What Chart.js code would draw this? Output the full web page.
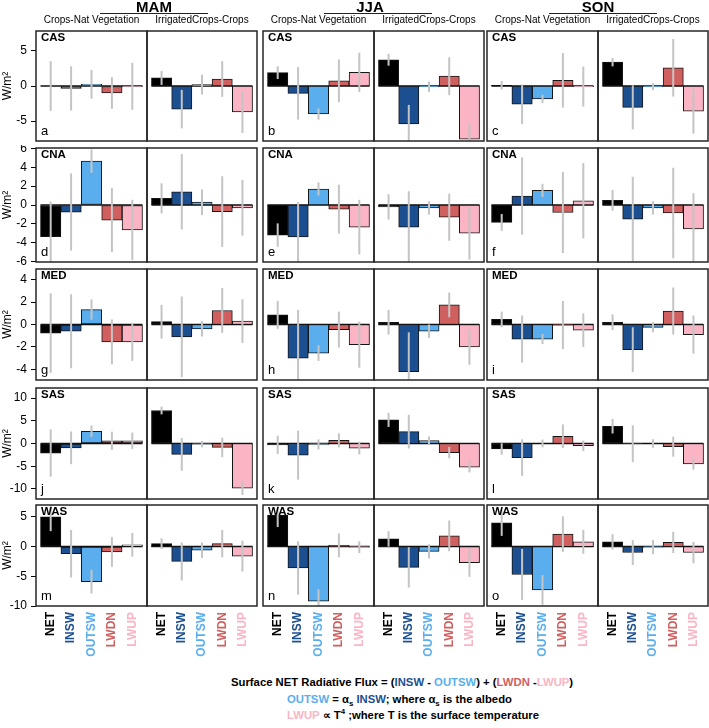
<!DOCTYPE html>
<html>
<head>
<meta charset="utf-8">
<script src="https://cdn.jsdelivr.net/npm/chart.js"></script>
<style>
  html, body { margin: 0; padding: 0; background: #fff; }
  #fig { position: relative; width: 709px; height: 728px; overflow: hidden;
         font-family: 'Liberation Sans', Arial, sans-serif; color: #000; }
  #fig canvas { position: absolute; }
  .t { position: absolute; white-space: nowrap; line-height: 1; }
  .t sub, .t sup { font-size: 70%; line-height: 0; }
</style>
</head>
<body>
<div id="fig"></div>
<script>
// categories
const varNames = ['NET', 'INSW', 'OUTSW', 'LWDN', 'LWUP'];
const seasons = ['MAM', 'JJA', 'SON'];
const groups = ['Crops-Nat Vegetation', 'IrrigatedCrops-Crops'];
const regions = ['CAS', 'CNA', 'MED', 'SAS', 'WAS'];
const panelLetters = ['a','b','c','d','e','f','g','h','i','j','k','l','m','n','o'];

// y axis range + tick step per row
const yMin = [-7.85, -6.05, -4.95, -12.2, -10];
const yMax = [7.85, 6.05, 4.95, 12.2, 7];
const yStep = [5, 2, 2, 5, 5];

// values (W/m2), order per region: MAM nat, MAM irr, JJA nat, JJA irr, SON nat, SON irr
const CAS_val = [
  [0.0, -0.35, 0.25, -1.0, -0.05],
  [1.15, -3.3, 0.2, 1.0, -3.7],
  [1.9, -1.05, -4.0, 0.75, 1.95],
  [3.75, -5.4, -0.1, 1.4, -7.6],
  [0.1, -2.6, -1.85, 0.8, -0.1],
  [3.4, -3.05, -0.1, 2.6, -3.6]
];
const CAS_err = [
  [3.55, 3.15, 2.05, 2.25, 3.35],
  [1.0, 2.75, 1.4, 2.55, 3.0],
  [0.9, 3.75, 0.8, 3.05, 2.8],
  [0.85, 2.7, 0.75, 2.7, 2.3],
  [0.6, 2.85, 0.6, 3.9, 2.85],
  [0.6, 3.15, 0.5, 4.1, 3.2]
];
const CNA_val = [
  [-3.35, -0.75, 4.65, -1.6, -2.65],
  [0.7, 1.4, 0.3, -0.7, -0.3],
  [-3.2, -3.4, 1.7, -0.45, -2.35],
  [-0.2, -2.35, -0.3, -1.3, -3.0],
  [-1.85, 0.95, 1.55, -0.8, 0.45],
  [0.5, -1.5, -0.3, -0.85, -2.55]
];
const CNA_err = [
  [3.7, 4.1, 1.25, 3.4, 3.2],
  [1.6, 4.0, 1.35, 3.75, 2.95],
  [1.25, 3.7, 0.7, 2.6, 2.9],
  [1.35, 3.8, 0.7, 2.5, 2.8],
  [0.9, 4.1, 0.7, 4.3, 4.0],
  [1.1, 4.5, 0.7, 4.8, 3.8]
];
const MED_val = [
  [-0.77, -0.6, 1.33, -1.55, -1.55],
  [0.25, -1.1, -0.4, 1.25, 0.3],
  [0.86, -3.0, -2.55, -0.45, -1.8],
  [0.2, -4.2, -0.6, 1.75, -2.0],
  [0.45, -1.3, -1.3, -0.05, -0.5],
  [0.2, -2.25, -0.25, 1.2, -0.9]
];
const MED_err = [
  [3.55, 3.3, 0.9, 2.0, 1.7],
  [1.5, 3.6, 0.68, 2.0, 1.95],
  [1.25, 4.3, 0.7, 1.6, 2.05],
  [1.1, 3.5, 0.6, 1.1, 1.6],
  [0.7, 2.1, 0.45, 2.15, 1.5],
  [0.7, 2.0, 0.45, 2.1, 1.7]
];
const SAS_val = [
  [-2.1, -0.95, 2.7, 0.6, 0.6],
  [7.25, -2.4, -0.15, -0.85, -9.8],
  [-0.3, -2.55, -0.2, 0.7, -1.0],
  [5.2, 2.6, 0.65, -2.0, -5.2],
  [-1.2, -3.1, 0.0, 1.6, -0.5],
  [3.8, -0.05, 0.0, -0.7, -4.5]
];
const SAS_err = [
  [5.2, 3.6, 1.25, 2.0, 1.8],
  [0.85, 3.6, 0.7, 2.15, 1.5],
  [2.0, 5.4, 1.1, 1.55, 1.4],
  [1.55, 3.7, 0.9, 1.25, 1.15],
  [1.25, 4.0, 0.85, 2.6, 1.15],
  [1.6, 4.05, 0.95, 2.2, 1.25]
];
const WAS_val = [
  [5.0, -1.2, -5.9, -0.9, 0.3],
  [0.5, -2.5, -0.6, 0.5, -1.6],
  [5.3, -3.6, -9.2, 0.2, -0.1],
  [1.3, -3.5, -0.8, 1.8, -2.7],
  [4.0, -4.7, -7.3, 2.1, 0.8],
  [0.8, -1.0, -0.1, 0.7, -1.0]
];
const WAS_err = [
  [2.4, 4.0, 2.0, 2.5, 2.0],
  [0.9, 3.2, 1.3, 2.3, 2.6],
  [2.0, 4.5, 2.0, 2.0, 1.0],
  [1.3, 3.4, 1.2, 2.6, 2.4],
  [2.2, 4.3, 2.5, 3.0, 2.0],
  [1.3, 2.1, 1.2, 1.8, 1.8]
];
const regionVals = [CAS_val, CNA_val, MED_val, SAS_val, WAS_val];
const regionErrs = [CAS_err, CNA_err, MED_err, SAS_err, WAS_err];

// styles / layout
const barColors = ['#000000', '#1b4f8f', '#5aaeee', '#d0605f', '#fbb4c4'];
const errColor = '#c4c4c4';
const panelLeft = [36, 263, 487];
const subW = [111, 110];
const rowTop = [31, 148, 269, 388, 505];
const rowH = [110, 114, 111, 111, 101];
const titleX = [154, 370, 598];
const ruleX = [100, 324, 549];
const PAD = 3, AXW = 36, XLH = 62;

Chart.defaults.font.family = "'Liberation Sans', Arial, sans-serif";
Chart.defaults.color = '#000';

const fig = document.getElementById('fig');

// zero line + box around each sub panel
const framePlugin = {
  id: 'frame',
  beforeDatasetsDraw(chart) {
    const { ctx, scales: { x, y } } = chart;
    const y0 = y.getPixelForValue(0);
    ctx.save();
    ctx.strokeStyle = '#111';
    ctx.lineWidth = 1.5;
    ctx.beginPath();
    ctx.moveTo(x.getPixelForValue(-0.5), y0);
    ctx.lineTo(x.getPixelForValue(4.5), y0);
    ctx.stroke();
    ctx.restore();
  },
  afterDraw(chart) {
    const { ctx, chartArea: a } = chart;
    ctx.save();
    ctx.strokeStyle = '#262626';
    ctx.lineWidth = 1.5;
    ctx.strokeRect(a.left, a.top, a.right - a.left, a.bottom - a.top);
    ctx.restore();
  }
};

function addText(html, css) {
  const d = document.createElement('div');
  d.className = 't';
  d.innerHTML = html;
  Object.assign(d.style, css);
  fig.appendChild(d);
  return d;
}

regions.forEach((reg, r) => {
  seasons.forEach((sea, c) => {
    groups.forEach((grp, s) => {
      const k = c * 2 + s;
      const vals = regionVals[r][k];
      const errs = regionErrs[r][k];
      const bx = panelLeft[c] + (s ? subW[0] : 0);
      const bw = subW[s], by = rowTop[r], bh = rowH[r];
      const hasY = c === 0 && s === 0;
      const hasX = r === regions.length - 1;

      const cv = document.createElement('canvas');
      const w = bw + (hasY ? AXW : PAD) + PAD;
      const h = PAD + bh + (hasX ? XLH : PAD);
      cv.width = w; cv.height = h;
      cv.style.left = (hasY ? bx - AXW : bx - PAD) + 'px';
      cv.style.top = (by - PAD) + 'px';
      cv.style.width = w + 'px';
      cv.style.height = h + 'px';
      fig.appendChild(cv);

      const xScale = {
        type: 'linear', min: -0.72, max: 4.72, offset: false, display: hasX,
        afterBuildTicks: sc => { sc.ticks = varNames.map((n, i) => ({ value: i })); },
        grid: { display: false, drawTicks: false, offset: false },
        border: { display: false },
        ticks: {
          autoSkip: false, minRotation: 90, maxRotation: 90, padding: 6,
          font: { size: 12, weight: 'bold' },
          color: ctx => barColors[ctx.index],
          callback: v => varNames[v]
        }
      };
      if (hasX) xScale.afterFit = sc => { sc.height = XLH; sc.paddingLeft = 0; sc.paddingRight = 0; };

      const yScale = {
        min: yMin[r], max: yMax[r], display: hasY,
        ticks: { stepSize: yStep[r], includeBounds: false, autoSkip: false, font: { size: 12 }, padding: 4, color: '#000' },
        grid: { drawOnChartArea: false, drawTicks: true, tickLength: 5, color: '#000', tickColor: '#000' },
        border: { display: false },
        title: { display: true, text: 'W/m²', font: { size: 12 }, padding: 0, color: '#000' }
      };
      if (hasY) yScale.afterFit = sc => { sc.width = AXW; sc.paddingTop = 0; sc.paddingBottom = 0; };

      new Chart(cv, {
        type: 'bar',
        data: {
          datasets: [
            {
              // error bars
              data: vals.map((v, i) => ({ x: i, y: [v - errs[i], v + errs[i]] })),
              backgroundColor: errColor,
              borderWidth: 0,
              grouped: false,
              maxBarThickness: 2,
              order: 0
            },
            {
              data: vals.map((v, i) => ({ x: i, y: v })),
              backgroundColor: barColors,
              borderColor: '#151515',
              borderWidth: 1,
              borderSkipped: false,
              grouped: false,
              barPercentage: 1,
              categoryPercentage: 1,
              order: 1
            }
          ]
        },
        options: {
          responsive: false,
          animation: false,
          events: [],
          layout: { padding: { left: hasY ? 0 : PAD, right: PAD, top: PAD, bottom: hasX ? 0 : PAD } },
          plugins: { legend: { display: false }, tooltip: { enabled: false } },
          scales: { x: xScale, y: yScale }
        },
        plugins: [framePlugin]
      });

      if (s === 0) {
        addText(reg, { left: (bx + 5) + 'px', top: (by + 1) + 'px', fontSize: '11.5px', fontWeight: 'bold' });
        addText(panelLetters[r * 3 + c], { left: (bx + 5) + 'px', top: (by + bh - 17) + 'px', fontSize: '13px' });
      }
      if (r === 0) {
        addText(grp, { left: (bx + bw / 2) + 'px', top: '15px', fontSize: '10px', transform: 'translateX(-50%)' });
      }
    });
    if (r === 0) {
      addText(sea, { left: titleX[c] + 'px', top: '-1px', fontSize: '15px', fontWeight: 'bold', transform: 'translateX(-50%)' });
      const ln = document.createElement('div');
      Object.assign(ln.style, { position: 'absolute', left: ruleX[c] + 'px', top: '12.5px', width: '108px', height: '1.3px', background: '#222' });
      fig.appendChild(ln);
    }
  });
});

// formula text under the figure
const col = (i, t) => '<span style="color:' + barColors[i] + '">' + t + '</span>';
addText('Surface NET Radiative Flux = (' + col(1, 'INSW') + ' - ' + col(2, 'OUTSW') + ') + (' + col(3, 'LWDN') + ' -' + col(4, 'LWUP') + ')',
  { left: '231px', top: '677px', fontSize: '11.3px', fontWeight: 'bold' });
addText(col(2, 'OUTSW') + ' = α<sub>s</sub> ' + col(1, 'INSW') + '; where α<sub>s</sub> is the albedo',
  { left: '287px', top: '694px', fontSize: '11.3px', fontWeight: 'bold' });
addText(col(4, 'LWUP') + ' ∝ T<sup>4</sup> ;where T is the surface temperature',
  { left: '287px', top: '710px', fontSize: '11.3px', fontWeight: 'bold' });
</script>
</body>
</html>
